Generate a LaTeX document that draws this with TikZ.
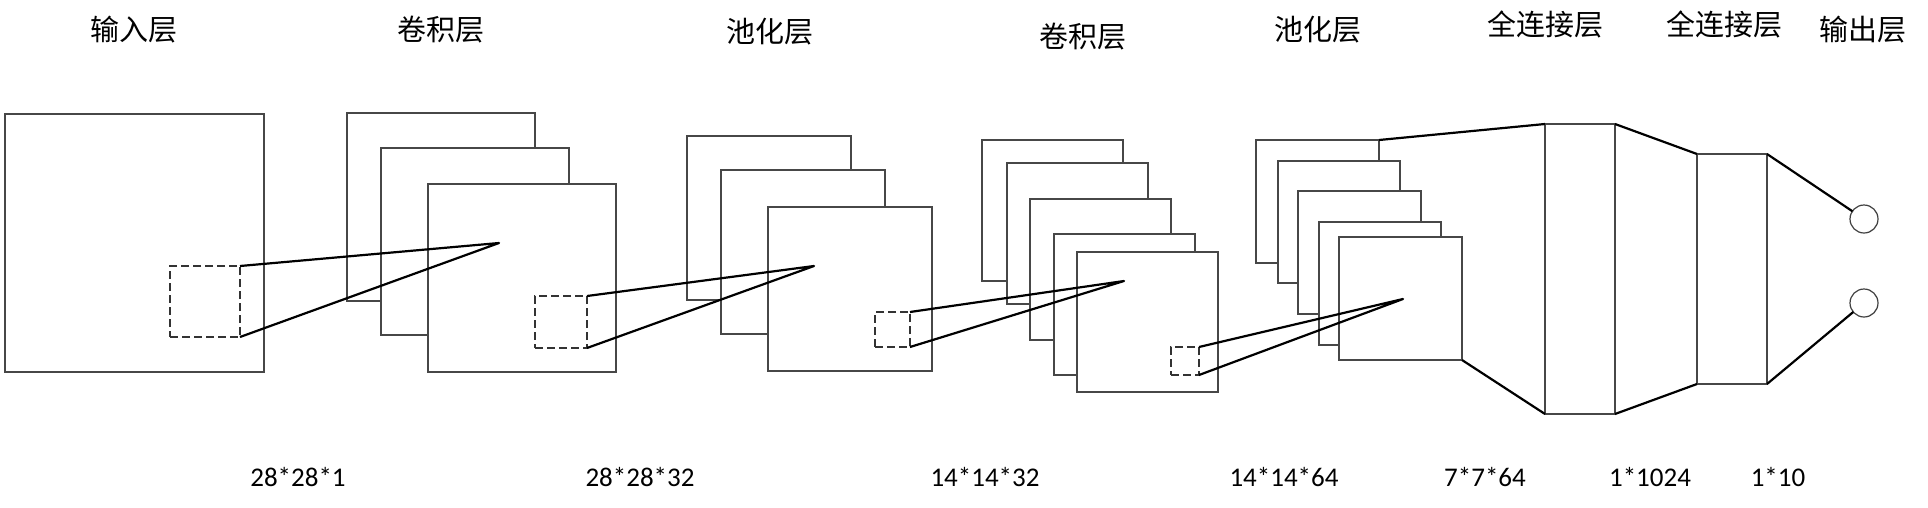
\documentclass[tikz,border=0pt]{standalone}
\usepackage{fontspec}
\setmainfont{Carlito}
\newfontfamily\cjk{Noto Sans CJK SC}
\begin{document}
\begin{tikzpicture}[x=1pt,y=-1pt,
  fmap/.style={draw=black!72,line width=1.5pt,fill=white,inner sep=0,outer sep=0,anchor=north west},
  patch/.style={draw=black!80,line width=1.5pt,dash pattern=on 8pt off 4pt,inner sep=0,outer sep=0,anchor=north west},
  conn/.style={draw=black,line width=2.2pt,line join=round},
  neuron/.style={draw=black!75,line width=1.2pt,fill=white,circle,minimum size=28pt,inner sep=0,outer sep=0},
  title/.style={font=\cjk\fontsize{29}{34}\selectfont,inner sep=0,anchor=center},
  dim/.style={font=\fontsize{27}{32}\selectfont,inner sep=0,anchor=center}]
\useasboundingbox (0,0) rectangle (1928,507);
\def\fm#1#2#3#4#5{\node[fmap,minimum width=#4pt,minimum height=#5pt] (#1) at (#2,#3) {};}
\def\pt#1#2#3#4#5{\node[patch,minimum width=#4pt,minimum height=#5pt] (#1) at (#2,#3) {};}
% titles
\node[title] (t1) at (134,30) {输入层};
\node[title] (t2) at (441,30) {卷积层};
\node[title] (t3) at (770,32) {池化层};
\node[title] (t4) at (1083,37) {卷积层};
\node[title] (t5) at (1318,30) {池化层};
\node[title] (t6) at (1545,24) {全连接层};
\node[title] (t7) at (1724,24) {全连接层};
\node[title] (t8) at (1863,30) {输出层};
% dims
\node[dim] (d1) at (298,477) {28*28*1};
\node[dim] (d2) at (640,477) {28*28*32};
\node[dim] (d3) at (985,477) {14*14*32};
\node[dim] (d4) at (1284,477) {14*14*64};
\node[dim] (d5) at (1485,477) {7*7*64};
\node[dim] (d6) at (1650,477) {1*1024};
\node[dim] (d7) at (1778,477) {1*10};
% input
\fm{in}{5}{114}{259}{258}
\pt{inp}{170}{266}{70}{71}
% conv1
\fm{ca}{347}{113}{188}{188}
\fm{cb}{381}{148}{188}{187}
\fm{cc}{428}{184}{188}{188}
\pt{cp}{535}{296}{52}{52}
\coordinate (f1) at (499,243);
% pool1
\fm{pa}{687}{136}{164}{164}
\fm{pb}{721}{170}{164}{164}
\fm{pc}{768}{207}{164}{164}
\pt{pp}{875}{312}{35}{35}
\coordinate (f2) at (814,266);
% conv2
\fm{da}{982}{140}{141}{141}
\fm{db}{1007}{163}{141}{141}
\fm{dc}{1030}{199}{141}{141}
\fm{dd}{1054}{234}{141}{141}
\fm{de}{1077}{252}{141}{140}
\pt{dp}{1171}{347}{28}{28}
\coordinate (f3) at (1124,281);
% pool2
\fm{qa}{1256}{140}{123}{123}
\fm{qb}{1278}{161}{122}{122}
\fm{qc}{1298}{191}{123}{123}
\fm{qd}{1319}{222}{122}{123}
\fm{qe}{1339}{237}{123}{123}
\coordinate (f4) at (1403,299);
% fully connected
\fm{fa}{1545}{124}{70}{290}
\fm{fb}{1697}{154}{70}{230}
\node[neuron] (o1) at (1864,219) {};
\node[neuron] (o2) at (1864,303) {};
% connectors
\draw[conn] (inp.north east) -- (f1) -- (inp.south east);
\draw[conn] (cp.north east) -- (f2) -- (cp.south east);
\draw[conn] (pp.north east) -- (f3) -- (pp.south east);
\draw[conn] (dp.north east) -- (f4) -- (dp.south east);
\draw[conn] (qa.north east) -- (fa.north west);
\draw[conn] (qe.south east) -- (fa.south west);
\draw[conn] (fa.north east) -- (fb.north west);
\draw[conn] (fa.south east) -- (fb.south west);
\draw[conn] (fb.north east) -- (o1);
\draw[conn] (fb.south east) -- (o2);
\end{tikzpicture}
\end{document}
